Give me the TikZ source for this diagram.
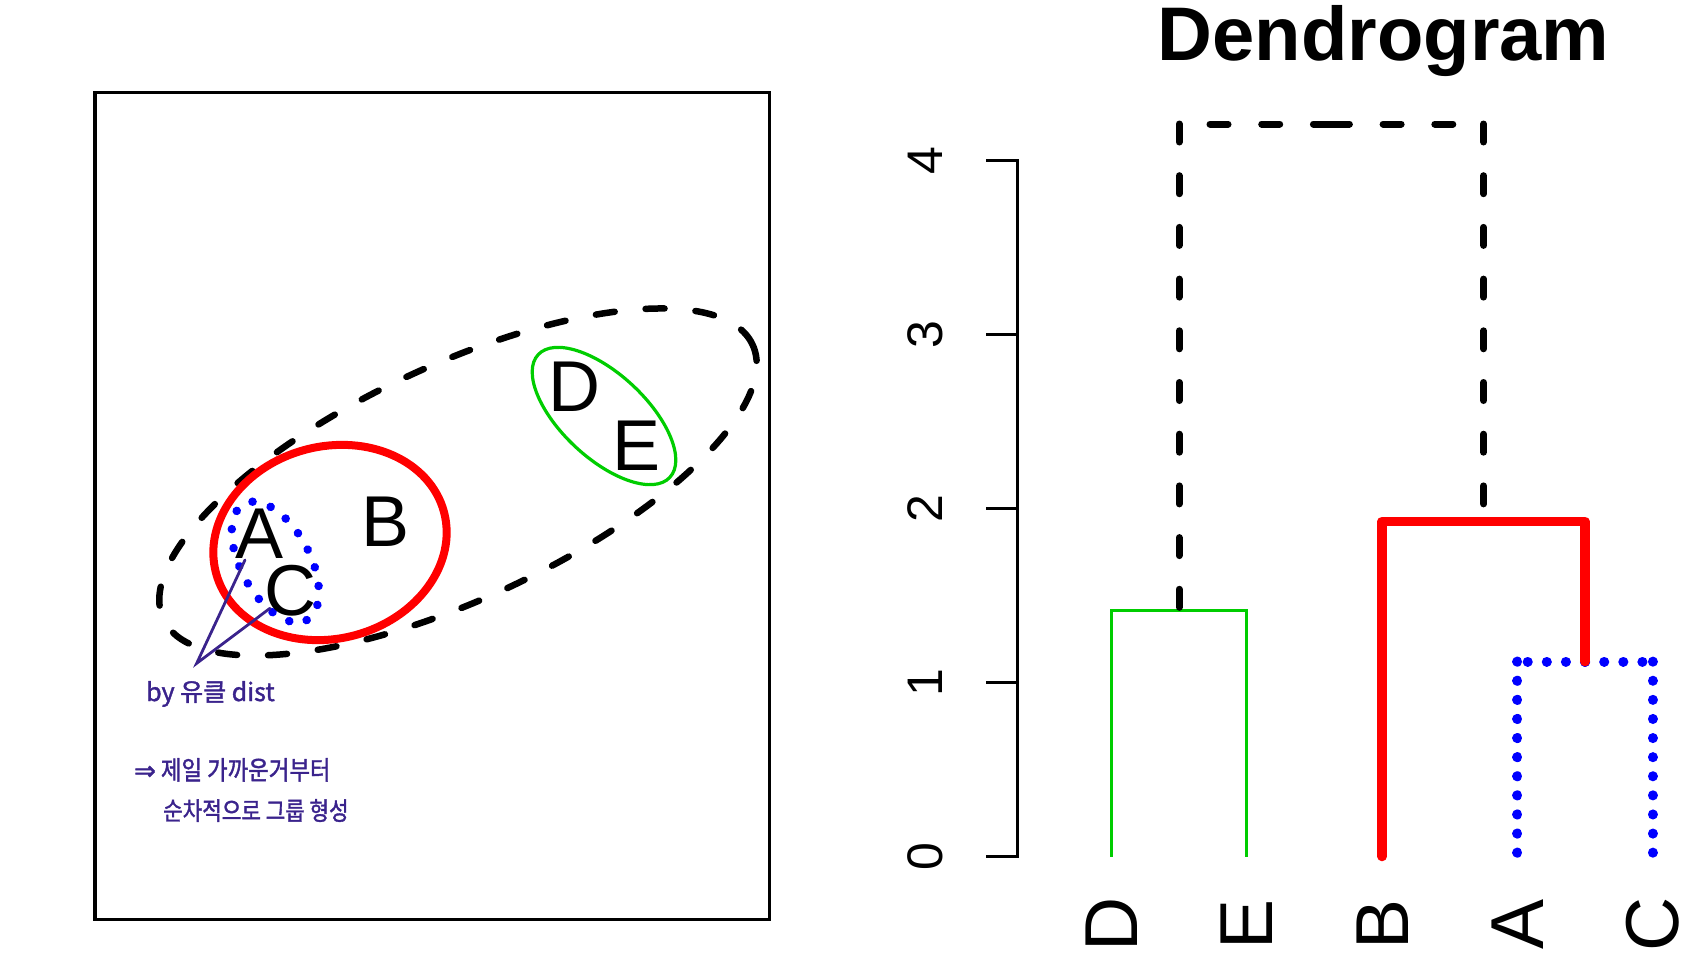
\documentclass[tikz,border=0pt]{standalone}
\usepackage{fontspec}
\setmainfont{Liberation Sans}
\newfontfamily\krfont[FakeBold=1.5]{Noto Sans CJK KR}
\newfontfamily\krnarrowA[FakeBold=1.5,FakeStretch=0.86]{Noto Sans CJK KR}
\newfontfamily\krnarrowB[FakeBold=1.5,FakeStretch=0.85]{Noto Sans CJK KR}
\newfontfamily\symfont[FakeBold=1.5]{DejaVu Sans}
\definecolor{pen}{RGB}{58,35,140}
\definecolor{grn}{RGB}{0,205,0}
\begin{document}
\begin{tikzpicture}[x=1pt,y=-1pt,
  lbl/.style={inner sep=0pt, font=\fontsize{72}{72}\selectfont},
  leaf/.style={inner sep=0pt, rotate=90, font=\fontsize{75}{75}\selectfont},
  ticklbl/.style={inner sep=0pt, rotate=90, font=\fontsize{50}{50}\selectfont},
  note/.style={inner sep=0pt, anchor=base west, text=pen},
  blackdash/.style={line width=7pt, line cap=round, dash pattern=on 18pt off 33.7pt},
  bigdash/.style={line width=6.5pt, line cap=round, dash pattern=on 19pt off 31pt},
  reddend/.style={line width=9.5pt, red, line cap=round, line join=round},
  bluedot/.style={line width=10pt, blue, line cap=round, dash pattern=on 0.1pt off 19pt},
  grnline/.style={line width=3.2pt, grn},
  penline/.style={line width=2.8pt, pen, line cap=round},
]
\useasboundingbox (0,0) rectangle (1700,974);

% ---------------- left panel ----------------
\draw[line width=3.3pt] (95,92.7) rectangle (769.8,919.4);

\begin{scope}[shift={(458,482)}, rotate=25]
  \draw[bigdash] (0,0) ellipse (325pt and 117pt);
\end{scope}
\begin{scope}[shift={(330,542.5)}, rotate=15]
  \draw[red, line width=8pt] (0,0) ellipse (118pt and 96pt);
\end{scope}
\begin{scope}[shift={(604,416)}, rotate=-43]
  \draw[grn, line width=3.2pt] (0,0) ellipse (90pt and 42pt);
\end{scope}
\begin{scope}[shift={(275.3,562)}, rotate=-61.7]
  \draw[blue, line width=8.5pt, line cap=round, dash pattern=on 0.1pt off 19pt] (0,0) ellipse (66pt and 34.5pt);
\end{scope}

\node[lbl] (A) at (260,534) {A};
\node[lbl] (B) at (386,522) {B};
\node[lbl] (C) at (290,591) {C};
\node[lbl] (D) at (574,387) {D};
\node[lbl] (E) at (637,446) {E};

\coordinate (apex) at (196.7,663.3);
\coordinate (pA) at (245,560);
\coordinate (pC) at (270,608.3);
\draw[penline] (pA) -- (apex) -- (pC);

\node[note, font=\krfont\fontsize{25}{25}\selectfont] (by) at (146,701) {by 유클 dist};
\node[note, font=\krnarrowA\fontsize{26}{26}\selectfont] (l1) at (134,779.6) {{\symfont ⇒} 제일 가까운거부터};
\node[note, font=\krnarrowB\fontsize{25}{25}\selectfont] (l2) at (163,820) {순차적으로 그룹 형성};

% ---------------- dendrogram ----------------
\node[inner sep=0pt, anchor=base, font=\bfseries\fontsize{76}{76}\selectfont] (title) at (1383.5,60) {Dendrogram};

% axis
\draw[line width=3pt] (986,856.5) -- (1017,856.5) -- (1017,160.5) -- (986,160.5);
\foreach \k/\yy in {1/682.5,2/508.5,3/334.5}{
  \draw[line width=3pt] (986,\yy) -- (1017,\yy);
}
\foreach \k/\yy in {0/856.5,1/682.5,2/508.5,3/334.5,4/160.5}{
  \node[ticklbl] (t\k) at (925,\yy) {\k};
}

% leaves
\coordinate (xD) at (1111.5,856.5);
\coordinate (xE) at (1246.8,856.5);
\coordinate (xB) at (1382.1,856.5);
\coordinate (xA) at (1517.4,856.5);
\coordinate (xC) at (1652.7,856.5);

% merge points
\coordinate (mDE) at (1179.15,610.5);
\coordinate (mAC) at (1585.05,661.6);
\coordinate (mBAC) at (1483.6,521.5);
\coordinate (mTop) at (1331.4,124);

% green D-E
\draw[grnline] (mDE) -- (xD |- mDE) -- (xD);
\draw[grnline] (mDE) -- (xE |- mDE) -- (xE);

% blue A-C
\draw[bluedot] (mAC) -- (xA |- mAC);
\draw[bluedot] (xA |- mAC) -- (xA);
\draw[bluedot] (mAC) -- (xC |- mAC);
\draw[bluedot] (xC |- mAC) -- (xC);

% red B-(AC)
\draw[reddend] (mBAC) -- (xB |- mBAC) -- (xB);
\draw[reddend] (mBAC) -- (mAC |- mBAC) -- (mAC);

% black top
\draw[blackdash] (mTop) -- (mDE |- mTop);
\draw[blackdash] (mDE |- mTop) -- (mDE);
\draw[blackdash] (mTop) -- (mBAC |- mTop);
\draw[blackdash] (mBAC |- mTop) -- (mBAC);

% leaf labels
\node[leaf] (LD) at (1112,924) {D};
\node[leaf] (LE) at (1247,924) {E};
\node[leaf] (LB) at (1382.5,924) {B};
\node[leaf] (LA) at (1518,924) {A};
\node[leaf] (LC) at (1653,924) {C};
\end{tikzpicture}
\end{document}
